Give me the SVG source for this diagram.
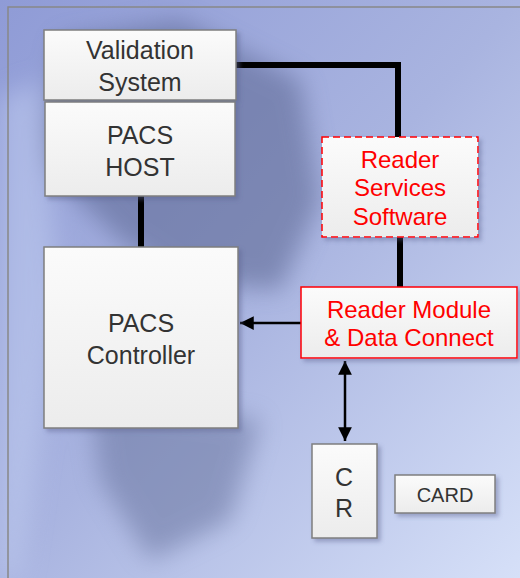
<svg xmlns="http://www.w3.org/2000/svg" width="520" height="578" viewBox="0 0 520 578">
<defs>
<linearGradient id="bg" x1="0" y1="0" x2="1" y2="1">
<stop offset="0" stop-color="#8f9bd6"/>
<stop offset="0.5" stop-color="#a9b4e0"/>
<stop offset="1" stop-color="#d6e0f8"/>
</linearGradient>
<linearGradient id="box" x1="0" y1="0" x2="0" y2="1">
<stop offset="0" stop-color="#fbfbfb"/>
<stop offset="1" stop-color="#ececec"/>
</linearGradient>
<filter id="sh" x="-10%" y="-10%" width="130%" height="130%">
<feDropShadow dx="3" dy="3" stdDeviation="2" flood-color="#5a6490" flood-opacity="0.45"/>
</filter>
<filter id="blur"><feGaussianBlur stdDeviation="12"/></filter>
<marker id="ah" viewBox="0 0 10 10" refX="10" refY="5" markerWidth="5.5" markerHeight="5.5" orient="auto-start-reverse" markerUnits="strokeWidth">
<path d="M0,0 L10,5 L0,10 z" fill="#000"/>
</marker>
</defs>
<style>
.b{fill:url(#box);stroke:#7f7f7f;stroke-width:1.5;filter:url(#sh)}
.r{fill:url(#box);stroke:#ff0000;stroke-width:1.5;filter:url(#sh)}
.rd{fill:url(#box);stroke:#ff0000;stroke-width:1.5;stroke-dasharray:7 4;filter:url(#sh)}
.t{font-family:"Liberation Sans",Arial,sans-serif;font-size:25px;fill:#333;text-anchor:middle}
.tr{font-family:"Liberation Sans",Arial,sans-serif;font-size:24px;fill:#ff0000;text-anchor:middle}
.thick{stroke:#000;stroke-width:6;fill:none}
.thin{stroke:#000;stroke-width:2.5;fill:none}
</style>
<rect x="0" y="0" width="520" height="578" fill="url(#bg)"/>
<g filter="url(#blur)" opacity="0.55">
<polygon points="60,40 180,20 300,80 320,200 280,290 180,280 120,240 40,160" fill="#5a6590"/>
<polygon points="90,400 260,420 230,520 150,560 100,480" fill="#6a76a0"/>
<polygon points="0,100 40,80 60,300 20,578 0,578" fill="#c0ccf0"/>
</g>
<path d="M8,578 V7 H520" fill="none" stroke="#888" stroke-width="1.5"/>
<g id="connectors">
<path class="thick" d="M236,65 H398 V137"/>
<path class="thick" d="M141,196 V247"/>
<path class="thick" d="M400,237 V287"/>
<path class="thin" d="M301,323 H240" marker-end="url(#ah)"/>
<path class="thin" d="M345,361 V441" marker-start="url(#ah)" marker-end="url(#ah)"/>
</g>
<g id="validation">
<rect class="b" x="44" y="30" width="192" height="70"/>
<text class="t" x="140" y="59">Validation</text>
<text class="t" x="140" y="91">System</text>
</g>
<g id="pacs-host">
<rect class="b" x="45" y="102" width="190" height="94"/>
<text class="t" x="140" y="144">PACS</text>
<text class="t" x="140" y="176">HOST</text>
</g>
<g id="pacs-controller">
<rect class="b" x="44" y="247" width="194" height="181"/>
<text class="t" x="141" y="332">PACS</text>
<text class="t" x="141" y="364">Controller</text>
</g>
<g id="reader-services">
<rect class="rd" x="322" y="137" width="156" height="100"/>
<text class="tr" x="400" y="168">Reader</text>
<text class="tr" x="400" y="196">Services</text>
<text class="tr" x="400" y="225">Software</text>
</g>
<g id="reader-module">
<rect class="r" x="301" y="287" width="216" height="71"/>
<text class="tr" x="409" y="318">Reader Module</text>
<text class="tr" x="409" y="346">&amp; Data Connect</text>
</g>
<g id="cr">
<rect class="b" x="312" y="444" width="65" height="94"/>
<text class="t" x="344" y="486">C</text>
<text class="t" x="344" y="517">R</text>
</g>
<g id="card">
<rect class="b" x="395" y="475" width="100" height="38"/>
<text class="t" x="445" y="502" style="font-size:20px">CARD</text>
</g>
</svg>
